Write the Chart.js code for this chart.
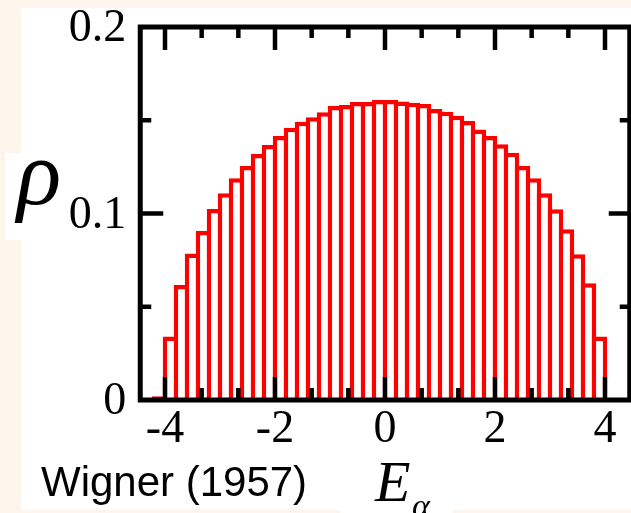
<!DOCTYPE html>
<html>
<head>
<meta charset="utf-8">
<script src="https://cdn.jsdelivr.net/npm/chart.js"></script>
<style>
  html, body { margin: 0; padding: 0; background: #fdf4ec; }
  #wrap { width: 631px; height: 513px; }
</style>
</head>
<body>
<div id="wrap"><canvas id="dosChart" width="631" height="513"></canvas></div>
<script>
// histogram bins (centre of each 0.2 wide bin) and level density
const binCenters = [
  -4.1, -3.9, -3.7, -3.5, -3.3, -3.1, -2.9, -2.7, -2.5, -2.3, -2.1,
  -1.9, -1.7, -1.5, -1.3, -1.1, -0.9, -0.7, -0.5, -0.3, -0.1,
  0.1, 0.3, 0.5, 0.7, 0.9, 1.1, 1.3, 1.5, 1.7, 1.9,
  2.1, 2.3, 2.5, 2.7, 2.9, 3.1, 3.3, 3.5, 3.7, 3.9, 4.1
];
const density = [
  0.002, 0.0340, 0.0617, 0.0786, 0.0906, 0.1024, 0.1108, 0.1189, 0.1255, 0.1319, 0.1367,
  0.1416, 0.1460, 0.1492, 0.1516, 0.1543, 0.1576, 0.1582, 0.1598, 0.1598, 0.1609,
  0.1609, 0.1600, 0.1594, 0.1587, 0.1560, 0.1546, 0.1524, 0.1496, 0.1451, 0.1416,
  0.1371, 0.1326, 0.1255, 0.1189, 0.1108, 0.1023, 0.0915, 0.0781, 0.0626, 0.0340, 0
];
const xTicks = [-4, -2, 0, 2, 4];
const yTicks = [0, 0.1, 0.2];
const yTickLabels = ['0', '0.1', '0.2'];
const yMinorTicks = [0.05, 0.15];

// two minor ticks between each pair of major x ticks
const xMinorTicks = [];
for (let i = 0; i < xTicks.length - 1; i++) {
  const step = (xTicks[i + 1] - xTicks[i]) / 3;
  xMinorTicks.push(xTicks[i] + step, xTicks[i] + 2 * step);
}

const PEACH = '#fdf4ec';

const backdrop = {
  id: 'backdrop',
  beforeDraw(chart) {
    const ctx = chart.ctx;
    ctx.save();
    ctx.fillStyle = PEACH;
    ctx.fillRect(0, 0, chart.width, chart.height);
    ctx.fillStyle = '#fff';
    ctx.fillRect(21, 8, chart.width - 21, 502);
    ctx.fillRect(5, 153, 20, 87);
    ctx.fillRect(340, 505, 113, 8);
    ctx.restore();
  }
};

// frame and inward ticks go on top of the bars
const frame = {
  id: 'frame',
  afterDatasetsDraw(chart) {
    const { ctx, chartArea: a, scales: { x, y } } = chart;
    ctx.save();
    ctx.strokeStyle = '#000';
    ctx.lineCap = 'butt';

    ctx.lineWidth = 4.5;
    const tick = (x0, y0, x1, y1) => {
      ctx.beginPath();
      ctx.moveTo(x0, y0);
      ctx.lineTo(x1, y1);
      ctx.stroke();
    };
    xTicks.forEach(v => {
      const px = x.getPixelForValue(v);
      tick(px, a.bottom, px, a.bottom - 23);
      tick(px, a.top, px, a.top + 23);
    });
    xMinorTicks.forEach(v => {
      const px = x.getPixelForValue(v);
      tick(px, a.bottom, px, a.bottom - 12);
      tick(px, a.top, px, a.top + 11);
    });
    yTicks.slice(1, -1).forEach(v => {
      const py = y.getPixelForValue(v);
      tick(a.left, py, a.left + 23, py);
      tick(a.right, py, a.right - 21, py);
    });
    yMinorTicks.forEach(v => {
      const py = y.getPixelForValue(v);
      tick(a.left, py, a.left + 11, py);
      tick(a.right, py, a.right - 10, py);
    });

    ctx.lineWidth = 5;
    ctx.strokeRect(a.left, a.top, a.right - a.left, a.bottom - a.top);
    ctx.restore();
  },
  afterDraw(chart) {
    const ctx = chart.ctx;
    ctx.save();
    ctx.fillStyle = '#000';
    ctx.textBaseline = 'alphabetic';
    ctx.textAlign = 'left';

    ctx.font = 'italic 92px "Liberation Serif"';
    ctx.fillText('ρ', 17, 204);

    ctx.font = '42px "Liberation Sans"';
    ctx.fillText('Wigner (1957)', 41, 496);

    ctx.font = 'italic 58px "Liberation Serif"';
    ctx.fillText('E', 375, 501);
    ctx.font = 'italic 34px "Liberation Serif"';
    ctx.fillText('α', 412, 517);
    ctx.restore();
  }
};

new Chart(document.getElementById('dosChart'), {
  type: 'bar',
  data: {
    datasets: [{
      data: binCenters.map((c, i) => ({ x: c, y: density[i] })),
      backgroundColor: '#fff',
      borderColor: '#ff0000',
      borderWidth: 4.5,
      borderSkipped: 'start',
      categoryPercentage: 1,
      barPercentage: 1.41
    }]
  },
  options: {
    responsive: false,
    animation: false,
    events: [],
    layout: { padding: { top: 27, right: 1.25, left: 0, bottom: 0 } },
    plugins: { legend: { display: false }, tooltip: { enabled: false } },
    scales: {
      x: {
        type: 'linear',
        min: -4.45,
        max: 4.45,
        offset: false,
        grid: { display: false, drawTicks: false },
        border: { display: false },
        afterBuildTicks: s => { s.ticks = xTicks.map(v => ({ value: v })); },
        afterFit: s => {
          s.height = 113;
          s.paddingLeft = 0;
          s.paddingRight = 0;
        },
        ticks: {
          padding: 2,
          color: '#000',
          font: { family: 'Liberation Serif', size: 46 },
          callback: v => String(v),
          maxRotation: 0,
          autoSkip: false
        }
      },
      y: {
        min: 0,
        max: 0.2,
        grid: { display: false, drawTicks: false },
        border: { display: false },
        afterBuildTicks: s => { s.ticks = yTicks.map(v => ({ value: v })); },
        afterFit: s => {
          s.width = 140.25;
          s.paddingTop = 0;
          s.paddingBottom = 0;
        },
        ticks: {
          padding: 14,
          labelOffset: 2,
          color: '#000',
          font: { family: 'Liberation Serif', size: 46 },
          callback: (v, i) => yTickLabels[i]
        }
      }
    }
  },
  plugins: [backdrop, frame]
});
</script>
</body>
</html>
